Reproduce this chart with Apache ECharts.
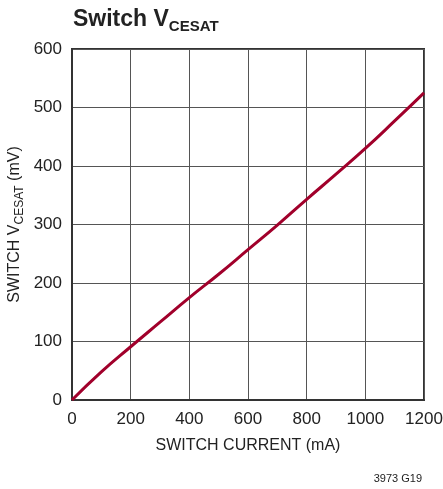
<!DOCTYPE html>
<html>
<head>
<meta charset="utf-8">
<script src="https://cdn.jsdelivr.net/npm/echarts@6/dist/echarts.min.js"></script>
<style>
html,body{margin:0;padding:0;background:#fff;}
#chart{width:443px;height:489px;}
</style>
</head>
<body>
<div id="chart"></div>
<script>
var switchCurrent = [0, 100, 200, 300, 400, 500, 600, 700, 800, 900, 1000, 1100, 1200];
var vcesat = [0, 48, 91, 133, 175, 215, 257, 299, 343, 386, 430, 477, 525];
var xTicks = [0, 200, 400, 600, 800, 1000, 1200];
var yTicks = [0, 100, 200, 300, 400, 500, 600];

var FONT = "'Liberation Sans', Arial, sans-serif";
var chart = echarts.init(document.getElementById('chart'), null, {renderer: 'canvas'});
var data = switchCurrent.map(function (x, i) { return [x, vcesat[i]]; });

chart.setOption({
  animation: false,
  backgroundColor: '#fff',
  title: {
    left: 68, top: 3,
    text: '{a|Switch V}{b|CESAT}',
    textStyle: {
      rich: {
        a: {fontFamily: FONT, fontWeight: 'bold', fontSize: 23, color: '#222', verticalAlign: 'bottom', padding: [0, 0, 3, 0]},
        b: {fontFamily: FONT, fontWeight: 'bold', fontSize: 15, color: '#222', verticalAlign: 'bottom'}
      }
    }
  },
  grid: {left: 72, right: 19, top: 49, bottom: 89, containLabel: false, outerBoundsMode: 'none',
    show: true, borderColor: '#333', borderWidth: 2, backgroundColor: 'transparent'},
  xAxis: {
    type: 'value', min: 0, max: 1200, interval: 200,
    name: 'SWITCH CURRENT (mA)', nameLocation: 'middle', nameGap: 38, nameMoveOverlap: false,
    nameTextStyle: {fontFamily: FONT, fontSize: 16, color: '#222'},
    axisLine: {show: true, lineStyle: {color: '#333', width: 2}},
    axisTick: {show: false},
    axisLabel: {fontFamily: FONT, fontSize: 17, color: '#222', margin: 11,
      formatter: function (v) { return xTicks.indexOf(v) >= 0 ? String(v) : ''; }},
    splitLine: {show: true, lineStyle: {color: '#555', width: 1}}
  },
  yAxis: {
    type: 'value', min: 0, max: 600, interval: 100,
    name: '{a|SWITCH V}{b|CESAT}{a| (mV)}', nameLocation: 'middle', nameGap: 46, nameRotate: 90, nameMoveOverlap: false,
    nameTextStyle: {
      rich: {
        a: {fontFamily: FONT, fontSize: 16, color: '#222', verticalAlign: 'bottom', padding: [0, 0, 3, 0]},
        b: {fontFamily: FONT, fontSize: 12, color: '#222', verticalAlign: 'bottom'}
      }
    },
    axisLine: {show: true, lineStyle: {color: '#333', width: 2}},
    axisTick: {show: false},
    axisLabel: {fontFamily: FONT, fontSize: 17, color: '#222', margin: 10,
      formatter: function (v) { return yTicks.indexOf(v) >= 0 ? String(v) : ''; }},
    splitLine: {show: true, lineStyle: {color: '#555', width: 1}}
  },
  graphic: [{
    type: 'text', right: 21, top: 473,
    style: {text: '3973 G19', font: '11px ' + FONT, fill: '#222'}
  }],
  series: [{
    type: 'line', data: data, smooth: true, showSymbol: false,
    lineStyle: {color: '#A1002B', width: 3},
    itemStyle: {color: '#A1002B'}
  }]
});
</script>
</body>
</html>
